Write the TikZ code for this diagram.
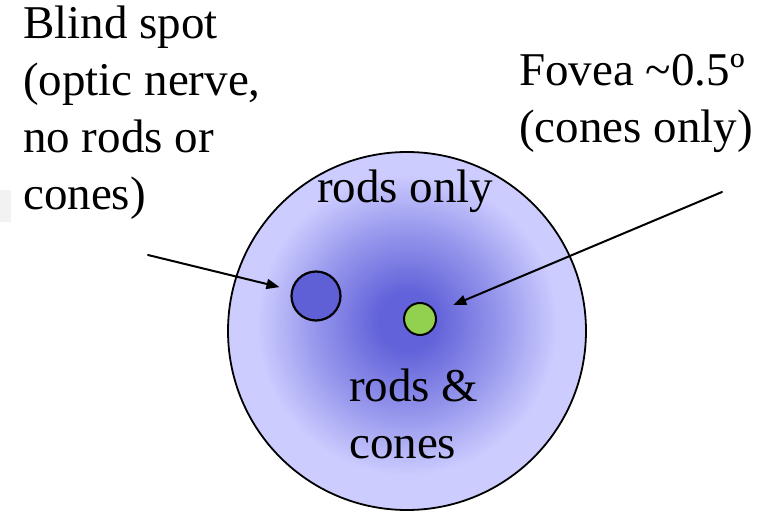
\documentclass[tikz,border=0pt]{standalone}
\usepackage{fontspec}
\setmainfont{Liberation Serif}
\usepackage{tikz}
\usetikzlibrary{arrows.meta,positioning}
\definecolor{retinarim}{HTML}{CCCCFF}
\definecolor{retinacore}{HTML}{6262DA}
\definecolor{blindfill}{HTML}{5F5FD6}
\definecolor{foveagreen}{HTML}{92D050}
\pgfdeclareradialshading{retinashade}{\pgfpoint{0bp}{1.5bp}}{%
  color(0bp)=(retinacore); color(4bp)=(retinacore);
  color(13bp)=(retinacore!50!retinarim); color(21bp)=(retinarim);
  color(50bp)=(retinarim)}

\begin{document}
\begin{tikzpicture}[x=1pt,y=-1pt,line cap=round,line join=round,
  font=\fontsize{47}{57}\selectfont,
  lbl/.style={anchor=base west,inner sep=0pt,align=left},
  spot/.style={circle,draw,inner sep=0pt},
  pointer/.style={-{Triangle[length=13pt,width=10pt]},line width=2pt}]
\path[use as bounding box] (0,0) rectangle (766,513);
\fill[white] (0,0) rectangle (766,513);
\fill[black!5] (0,190) rectangle (11,222);

% retina disc
\node[spot,line width=1.8pt,minimum size=358pt,shading=retinashade] (retina) at (407,331) {};
\node[spot,line width=2.2pt,minimum size=49pt,fill=blindfill] (blind) at (316,296) {};
\node[spot,line width=2pt,minimum size=32pt,fill=foveagreen] (fovea) at (420,319) {};

% labels (base = last line)
\node[lbl] (blindtxt) at (23,210) {Blind spot\\(optic nerve,\\no rods or\\cones)};
\node[lbl] (foveatxt) at (519,143) {Fovea \textasciitilde0.5º\\(cones only)};
\node[lbl] (rodsonly) at (317,203) {rods only};
\node[lbl] (rodscones) at (349,458) {rods \&\\cones};

% pointers
\coordinate (blindtail) at (148,255);
\coordinate (foveatail) at (722,192);
\draw[pointer,shorten >=12pt] (blindtail) -- (blind);
\draw[pointer,shorten >=19pt] (foveatail) -- (fovea);
\end{tikzpicture}
\end{document}
